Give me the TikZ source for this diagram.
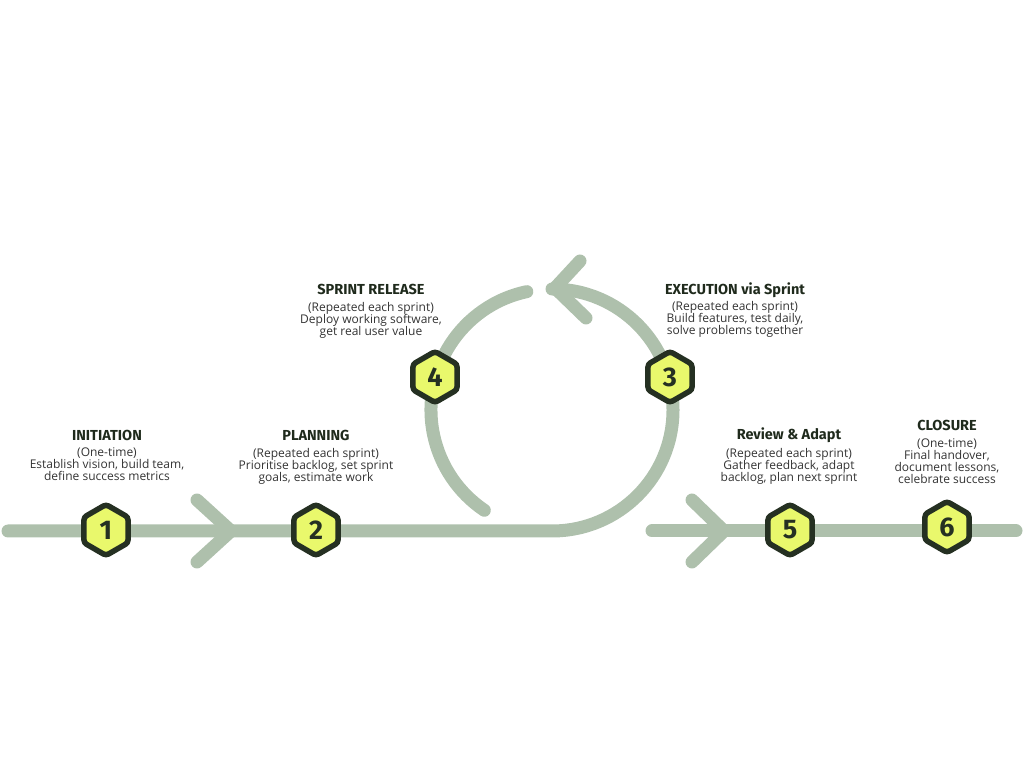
\documentclass[tikz,border=0pt]{standalone}
\usepackage{fontspec}
\setmainfont{Open Sans}
\newfontfamily\titlefont{Fira Sans}
\usetikzlibrary{shapes.geometric}
\definecolor{sage}{HTML}{AEC0AC}
\definecolor{hexfill}{HTML}{E9F86C}
\definecolor{hexline}{HTML}{253022}
\definecolor{titlecol}{HTML}{1F2A1C}
\definecolor{bodycol}{HTML}{333333}
\tikzset{
  flow/.style={draw=sage, line width=13pt, line cap=round, line join=round},
  hexnode/.style={regular polygon, regular polygon sides=6, shape border rotate=30,
    minimum size=51pt, inner sep=0pt, draw=hexline, line width=5.5pt, fill=hexfill,
    rounded corners=3pt, font=\titlefont\bfseries\fontsize{27}{27}\selectfont, text=hexline},
  titlenode/.style={font=\titlefont\bfseries\fontsize{14.5}{16}\selectfont, text=titlecol, inner sep=0pt},
  bodynode/.style={font=\fontsize{12}{12.2}\selectfont, text=bodycol, align=center, inner sep=0pt, anchor=north}
}
\begin{document}
\begin{tikzpicture}[x=1pt,y=1pt]
\useasboundingbox (0,0) rectangle (1024,768);
% connectors
\coordinate (L0) at (8,237);
\coordinate (Lb) at (552,237);
\coordinate (R0) at (652,237);
\coordinate (R1) at (1016,237);
\draw[flow] (L0) -- (Lb) arc[start angle=-90, end angle=90, radius=121];
\draw[flow] (552,358) ++(102:121) arc[start angle=102, end angle=236, radius=121];
\draw[flow] (R0) -- (R1);
% chevrons
\coordinate (A1) at (231,237);
\draw[flow] (197,268) -- (A1) -- (197,206);
\coordinate (A2) at (724,237);
\draw[flow] (692,268) -- (A2) -- (692,206);
\coordinate (A3) at (555,480);
\draw[flow] (580,507) -- (A3) -- (586,450);
% hexagon nodes
\node[hexnode] (h1) at (106,238) {1};
\node[hexnode] (h2) at (316,238) {2};
\node[hexnode] (h4) at (435,391) {4};
\node[hexnode] (h3) at (670,391) {3};
\node[hexnode] (h5) at (790,238) {5};
\node[hexnode] (h6) at (947,241) {6};
% labels
\node[titlenode] (t1) at (107,333) {INITIATION};
\node[bodynode] (b1) at (107,321) {(One-time)\\Establish vision, build team,\\define success metrics};
\node[titlenode] (t2) at (316,333) {PLANNING};
\node[bodynode] (b2) at (316,320) {(Repeated each sprint)\\Prioritise backlog, set sprint\\goals, estimate work};
\node[titlenode] (t4) at (371,479) {SPRINT RELEASE};
\node[bodynode] (b4) at (371,466) {(Repeated each sprint)\\Deploy working software,\\get real user value};
\node[titlenode] (t3) at (735,478) {EXECUTION via Sprint};
\node[bodynode] (b3) at (735,467) {(Repeated each sprint)\\Build features, test daily,\\solve problems together};
\node[titlenode] (t5) at (789,333) {Review \& Adapt};
\node[bodynode] (b5) at (789,320) {(Repeated each sprint)\\Gather feedback, adapt\\backlog, plan next sprint};
\node[titlenode] (t6) at (947,343) {CLOSURE};
\node[bodynode] (b6) at (947,330) {(One-time)\\Final handover,\\document lessons,\\celebrate success};
\end{tikzpicture}
\end{document}
